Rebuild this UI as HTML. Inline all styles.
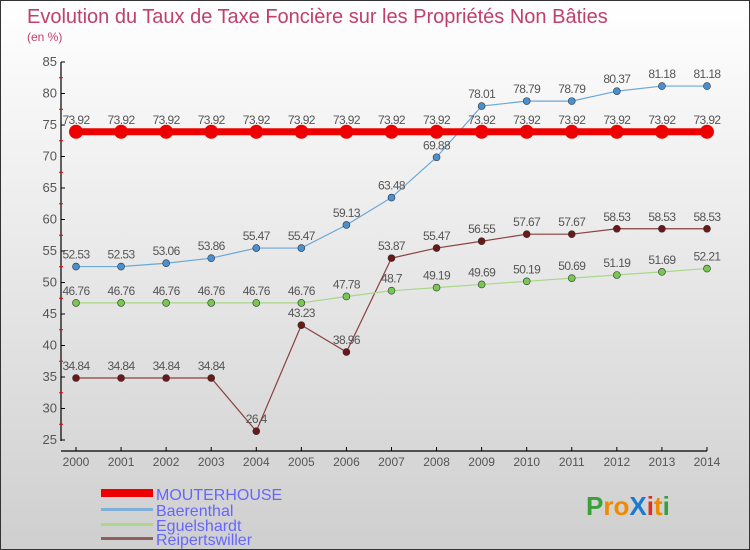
<!DOCTYPE html>
<html><head><meta charset="utf-8"><style>
body{margin:0}
#c{width:748px;height:548px;border:1px solid #333;background:linear-gradient(#ffffff,#cfcfcf);position:relative;overflow:hidden;font-family:"Liberation Sans",sans-serif}
text{font-family:"Liberation Sans",sans-serif}
</style></head><body>
<div id="c">
<svg id="s" width="748" height="548" xmlns="http://www.w3.org/2000/svg">
<text x="26" y="22" font-size="20" fill="#c0406a">Evolution du Taux de Taxe Foncière sur les Propriétés Non Bâties</text>
<text x="26" y="40" font-size="12" fill="#c0406a">(en %)</text>
<g id="axes"></g>
<g id="series"></g>
<g>
<rect x="100" y="488" width="52" height="8" fill="#e00"/>
<text x="155" y="499" font-size="16" fill="#6666ff">MOUTERHOUSE</text>
<rect x="100" y="507" width="52" height="3" fill="#7fb0d8"/>
<text x="155" y="515" font-size="16" fill="#6666ff">Baerenthal</text>
<rect x="100" y="522" width="52" height="3" fill="#a8d888"/>
<text x="155" y="530" font-size="16" fill="#6666ff">Eguelshardt</text>
<rect x="100" y="536" width="52" height="3" fill="#906060"/>
<text x="155" y="544" font-size="16" fill="#6666ff">Reipertswiller</text>
</g>
<g font-size="26" font-weight="bold">
<text x="585" y="514"><tspan fill="#3aa03a">P</tspan><tspan fill="#f08a00">ro</tspan><tspan fill="#1a7ad0">X</tspan><tspan fill="#e03020">i</tspan><tspan fill="#f08a00">t</tspan><tspan fill="#3aa03a">i</tspan></text>
</g>
</svg>
</div>
<script>
const years=[2000,2001,2002,2003,2004,2005,2006,2007,2008,2009,2010,2011,2012,2013,2014];
const mouterhouse=[73.92,73.92,73.92,73.92,73.92,73.92,73.92,73.92,73.92,73.92,73.92,73.92,73.92,73.92,73.92];
const baerenthal=[52.53,52.53,53.06,53.86,55.47,55.47,59.13,63.48,69.88,78.01,78.79,78.79,80.37,81.18,81.18];
const eguelshardt=[46.76,46.76,46.76,46.76,46.76,46.76,47.78,48.7,49.19,49.69,50.19,50.69,51.19,51.69,52.21];
const reipertswiller=[34.84,34.84,34.84,34.84,26.4,43.23,38.96,53.87,55.47,56.55,57.67,57.67,58.53,58.53,58.53];
const yTicks=[25,30,35,40,45,50,55,60,65,70,75,80,85];
const NS="http://www.w3.org/2000/svg";
const X=i=>75+i*45.07;
const Y=v=>439-(v-25)*6.3;
const ax=document.getElementById('axes'),sg=document.getElementById('series');
function mk(p,t,a){const e=document.createElementNS(NS,t);for(const k in a)e.setAttribute(k,a[k]);p.appendChild(e);return e;}
const ya=mk(ax,'line',{x1:60,y1:61,x2:60,y2:440,stroke:'#000','stroke-width':1.2});


const xa=mk(ax,'line',{x1:60,y1:450,x2:706,y2:450,stroke:'#000','stroke-width':1.2});


yTicks.forEach((v,i)=>{
 mk(ax,'line',{x1:60,y1:Y(v),x2:64,y2:Y(v),stroke:'#000'});
 if(i<yTicks.length-1)mk(ax,'line',{x1:58,y1:Y(v+2.5),x2:62,y2:Y(v+2.5),stroke:'#e00'});
 const t=mk(ax,'text',{x:56,y:Y(v)+4,'font-size':13,fill:'#555','text-anchor':'end'});
 t.textContent=v;
 
 
});
years.forEach((y,i)=>{
 mk(ax,'line',{x1:X(i),y1:446,x2:X(i),y2:450,stroke:'#000'});
 const t=mk(ax,'text',{x:X(i),y:465,'font-size':12,fill:'#555','text-anchor':'middle'});
 t.textContent=y;
 
 
});
function series(vals,name,col,dot,w,r){
 const g=mk(sg,'g',{});
 
 
 const p=mk(g,'polyline',{points:vals.map((v,i)=>X(i)+','+Y(v)).join(' '),fill:'none',stroke:col,'stroke-width':w});
 
 
 vals.forEach((v,i)=>{
  const c=mk(g,'circle',{cx:X(i),cy:Y(v),r:r,fill:dot,stroke:'#333','stroke-width':r>5?0:0.6});
  
  
  const t=mk(g,'text',{x:X(i),y:Y(v)-8,'font-size':12,fill:'#555','text-anchor':'middle','letter-spacing':'-0.6'});
  t.textContent=v;
  
  
 });
}
series(reipertswiller,'reipertswiller','#8a4040','#6a1818',1.2,3.5);
series(eguelshardt,'eguelshardt','#a8d888','#78c850',1.2,3.5);
series(baerenthal,'baerenthal','#6aa8d8','#4a90d0',1.2,3.5);
series(mouterhouse,'mouterhouse','#e00','#e00',7,7);
</script>
</body></html>
